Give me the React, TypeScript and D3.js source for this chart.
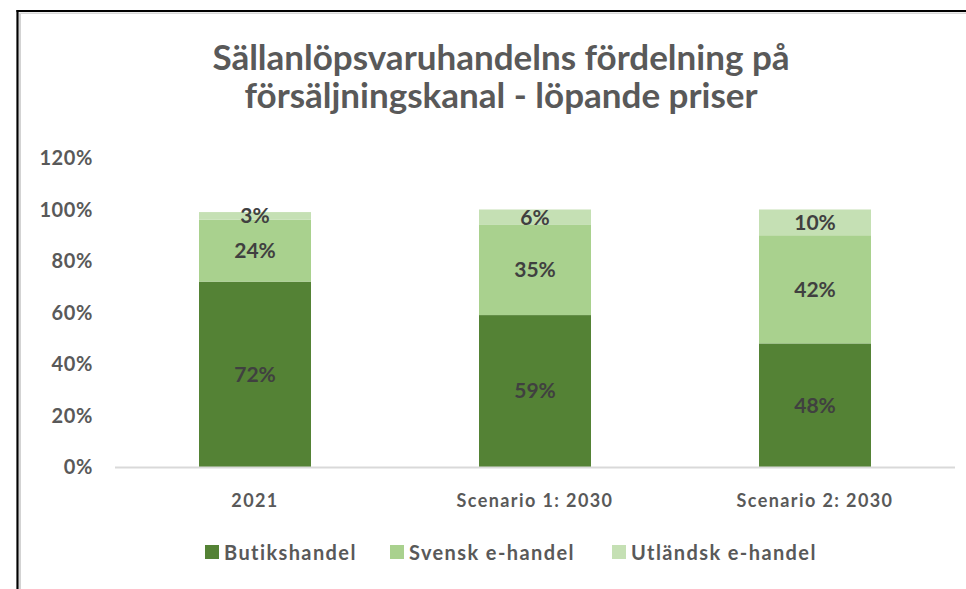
import React from "react";
import * as d3 from "d3";

const categories = ["2021", "Scenario 1: 2030", "Scenario 2: 2030"];
const butikshandel = [72, 59, 48];
const svenskEhandel = [24, 35, 42];
const utlandskEhandel = [3, 6, 10];
const seriesNames = ["Butikshandel", "Svensk e-handel", "Utländsk e-handel"];
const yTicks = [0, 20, 40, 60, 80, 100, 120];
const titleLines = ["Sällanlöpsvaruhandelns fördelning på", "försäljningskanal - löpande priser"];

const colors = ["#548235", "#A9D18E", "#C5E0B4"];
const FONT = "Lato, 'Open Sans', sans-serif";

export default function App() {
  const W = 966, H = 589;
  const x = d3.scaleBand<string>().domain(categories).range([115, 955]).paddingInner(0.6).paddingOuter(0.3);
  const y = d3.scaleLinear().domain([0, 120]).range([467, 158]);
  const series = [butikshandel, svenskEhandel, utlandskEhandel];
  const table = categories.map((c, i) => ({ cat: c, s0: series[0][i], s1: series[1][i], s2: series[2][i] }));
  const stack = d3.stack<any>().keys(["s0", "s1", "s2"])(table);
  const bw = 112;
  const legendX = [205, 390, 612];

  return (
    <svg width={W} height={H} style={{ position: "fixed", left: 0, top: 0, background: "#fff" }} fontFamily={FONT}>
      <rect x={0} y={0} width={W} height={H} fill="#fff" />
      {/* frame */}
      <line x1={17.5} y1={10} x2={17.5} y2={H} stroke="#000" strokeWidth={2.2} />
      <line x1={16.5} y1={11} x2={W} y2={11} stroke="#000" strokeWidth={2.2} />
      <line x1={20} y1={13} x2={20} y2={H} stroke="#c8c8c8" strokeWidth={1.6} />
      <line x1={19.5} y1={13.3} x2={W} y2={13.3} stroke="#d8d8d8" strokeWidth={1.6} />

      {titleLines.map((t, i) => (
        <text key={t} x={501} y={70 + i * 38} textAnchor="middle" fontSize={35} fontWeight={700} fill="#595959">
          {t}
        </text>
      ))}

      {yTicks.map((t) => (
        <text key={t} x={93} y={y(t)} dy="0.35em" textAnchor="end" fontSize={20} fontWeight={700} fill="#595959" letterSpacing={0.6}>
          {t}%
        </text>
      ))}

      {stack.map((layer, li) =>
        layer.map((d, i) => {
          const cx = x(categories[i])! + x.bandwidth() / 2;
          const y0 = y(d[0]), y1 = y(d[1]);
          return <rect key={`${li}-${i}`} x={cx - bw / 2} y={y1} width={bw} height={y0 - y1} fill={colors[li]} />;
        })
      )}

      <line x1={115} x2={955} y1={y(0) + 0.5} y2={y(0) + 0.5} stroke="#d9d9d9" strokeWidth={2} />

      {stack.map((layer, li) =>
        layer.map((d, i) => {
          const cx = x(categories[i])! + x.bandwidth() / 2;
          const ym = (y(d[0]) + y(d[1])) / 2;
          return (
            <text key={`l${li}-${i}`} x={cx} y={ym} dy="0.35em" textAnchor="middle" fontSize={21} fontWeight={700} fill="#404040">
              {series[li][i]}%
            </text>
          );
        })
      )}

      {categories.map((c) => (
        <text key={c} x={x(c)! + x.bandwidth() / 2} y={507} textAnchor="middle" fontSize={18} fontWeight={700} fill="#595959" letterSpacing={1.4}>
          {c}
        </text>
      ))}

      {seriesNames.map((n, i) => (
        <g key={n}>
          <rect x={legendX[i]} y={545} width={14} height={14} fill={colors[i]} />
          <text x={legendX[i] + 19} y={560} fontSize={20} fontWeight={700} fill="#595959" letterSpacing={1.4}>
            {n}
          </text>
        </g>
      ))}
    </svg>
  );
}
